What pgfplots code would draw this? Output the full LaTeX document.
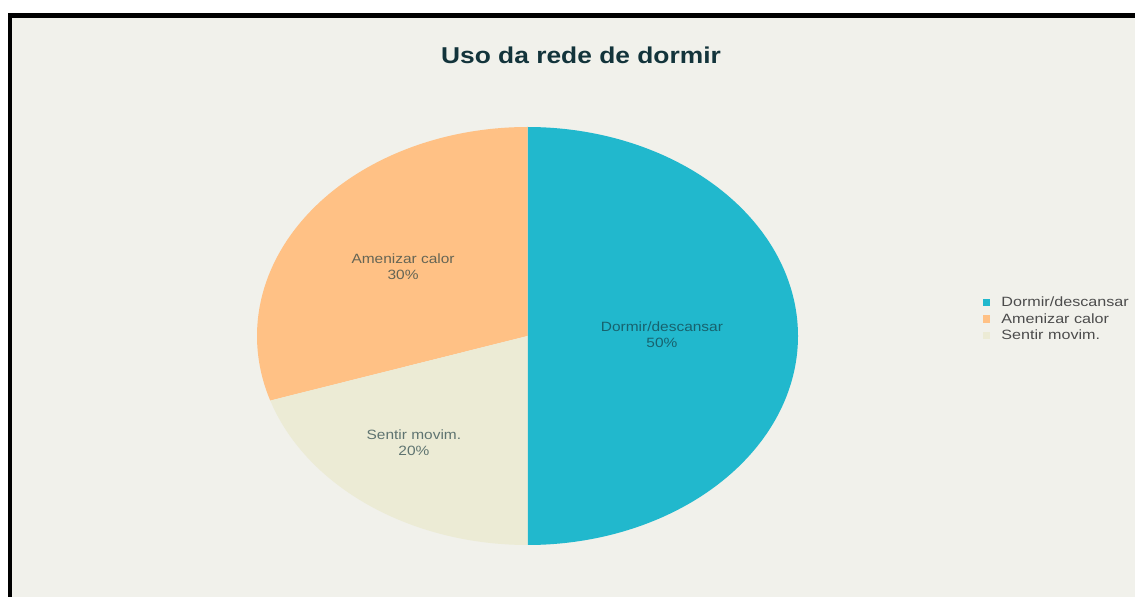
\documentclass[border=0pt]{standalone}
\usepackage{pgfplots}
\pgfplotsset{compat=1.18}
\usepackage{fontspec}
\setmainfont{Liberation Sans}
\definecolor{bg}{HTML}{F1F1EB}
\definecolor{titlec}{HTML}{13343B}
\definecolor{cdorm}{HTML}{21B8CD}
\definecolor{camen}{HTML}{FFC185}
\definecolor{csent}{HTML}{ECEBD5}

% shares in percent: Dormir/descansar 50, Amenizar calor 30, Sentir movim. 20
% drawn clockwise from the top: Dormir, Sentir, Amenizar
\begin{document}
\begin{tikzpicture}
\useasboundingbox (0bp,0bp) rectangle (1135bp,597bp);
\fill[white] (0bp,0bp) rectangle (1135bp,597bp);
\fill[black] (8bp,0bp) rectangle (1135bp,584bp);
\fill[bg] (12bp,0bp) rectangle (1135bp,579bp);
\node[text=titlec, font=\fontsize{23}{27}\selectfont\bfseries, xscale=1.15]
  at (581bp,542bp) {Uso da rede de dormir};
\begin{axis}[
  at={(527.5bp,261bp)}, anchor=origin,
  scale only axis, width=541bp, height=418bp,
  xmin=-1, xmax=1, ymin=-1, ymax=1,
  hide axis, clip=false,
  samples=181,
  legend style={at={(1.336,0.604)}, anchor=north west, draw=none, fill=none,
    font=\fontsize{13.5}{16}\selectfont, text=black!70, row sep=1.5bp,
    /tikz/every odd column/.append style={column sep=9bp}},
  legend cell align=left,
  legend image code/.code={\fill[#1] (0bp,-3.6bp) rectangle (7.5bp,3.6bp);},
  slice/.style={draw=none},
]
% Dormir/descansar: 50% -> 180 degrees
\addplot[slice, fill=cdorm, domain=-90:90, variable=\t]
  ({cos(\t)}, {sin(\t)}) -- (axis cs:0,0) -- cycle;
\addlegendentry{\scalebox{1.2}[1]{Dormir/descansar}}
% Amenizar calor: 30% -> 108 degrees
\addplot[slice, fill=camen, domain=90:198, variable=\t]
  ({cos(\t)}, {sin(\t)}) -- (axis cs:0,0) -- cycle;
\addlegendentry{\scalebox{1.2}[1]{Amenizar calor}}
% Sentir movim.: 20% -> 72 degrees
\addplot[slice, fill=csent, domain=198:270, variable=\t]
  ({cos(\t)}, {sin(\t)}) -- (axis cs:0,0) -- cycle;
\addlegendentry{\scalebox{1.2}[1]{Sentir movim.}}

\tikzset{lbl/.style={align=center, text=titlec, text opacity=0.65,
  font=\fontsize{13.5}{16}\selectfont, xscale=1.15}}
\node[lbl] at (axis cs:0.497,0.005) {Dormir/descansar\\50\%};
\node[lbl] at (axis cs:-0.46,0.33) {Amenizar calor\\30\%};
\node[lbl] at (axis cs:-0.42,-0.51) {Sentir movim.\\20\%};
\end{axis}
\end{tikzpicture}
\end{document}
